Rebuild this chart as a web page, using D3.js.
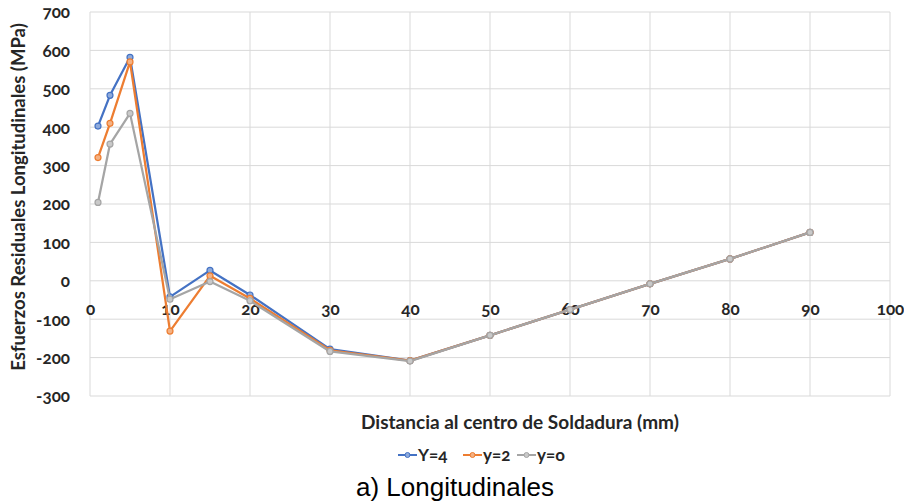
<!DOCTYPE html>
<html>
<head>
<meta charset="utf-8">
<script src="https://cdn.jsdelivr.net/npm/d3@7/dist/d3.min.js"></script>
<style>
  html, body { margin: 0; padding: 0; background: #fff; }
  svg { display: block; }
  .lbl { font-family: Lato, "Open Sans", sans-serif; font-weight: 700; fill: #262626; font-variant-numeric: oldstyle-nums; }
</style>
</head>
<body>
<svg id="chart" width="904" height="504"></svg>
<script>
// Distance from the weld centre (mm)
const distances = [1, 2.5, 5, 10, 15, 20, 30, 40, 50, 60, 70, 80, 90];

// Longitudinal residual stress (MPa) per line
const seriesNames = ["Y=4", "y=2", "y=o"];
const stressY4 = [403, 483, 582, -42, 27, -37, -178, -208, -142, -75, -8, 57, 126];
const stressY2 = [321, 410, 570, -131, 13, -46, -181, -208, -142, -75, -8, 57, 126];
const stressY0 = [204, 356, 436, -48, -2, -52, -184, -209, -142, -75, -8, 57, 126];

const xTicks = [0, 10, 20, 30, 40, 50, 60, 70, 80, 90, 100];
const yTicks = [-300, -200, -100, 0, 100, 200, 300, 400, 500, 600, 700];

const colors = ["#4472C4", "#ED7D31", "#A5A5A5"];
const markerFill = ["#8eaadb", "#f4b183", "#c9c9c9"];

const svg = d3.select("#chart");
const plotLeft = 90, plotRight = 890, plotTop = 12, plotBottom = 396;

const x = d3.scaleLinear().domain([0, 100]).range([plotLeft, plotRight]);
const y = d3.scaleLinear().domain([-300, 700]).range([plotBottom, plotTop]);

// Plain hyphen for negatives
const fmt = d => String(d);

// Gridlines
const grid = svg.append("g");
grid.selectAll("line.h").data(yTicks).join("line")
  .attr("x1", plotLeft).attr("x2", plotRight)
  .attr("y1", d => y(d)).attr("y2", d => y(d))
  .attr("stroke", "#d9d9d9").attr("stroke-width", 1);
grid.selectAll("line.v").data(xTicks).join("line")
  .attr("x1", d => x(d)).attr("x2", d => x(d))
  .attr("y1", plotTop).attr("y2", plotBottom)
  .attr("stroke", "#d9d9d9").attr("stroke-width", 1);

// Y axis labels
const yAxis = d3.axisLeft(y).tickValues(yTicks).tickSize(0).tickPadding(0).tickFormat(fmt);
svg.append("g").attr("transform", `translate(${plotLeft - 20},0)`).call(yAxis)
  .call(g => g.select(".domain").remove())
  .call(g => g.selectAll("text").attr("class", "lbl").attr("font-size", 17).attr("dy", "0.35em").attr("fill", null));

// X axis labels, sitting under the zero line
const xAxis = d3.axisBottom(x).tickValues(xTicks).tickSize(0).tickPadding(0).tickFormat(fmt);
svg.append("g").attr("transform", `translate(0,${y(0) + 28})`).call(xAxis)
  .call(g => g.select(".domain").remove())
  .call(g => g.selectAll("text").attr("class", "lbl").attr("font-size", 17).attr("dy", "0.35em").attr("fill", null));

// Series
const allSeries = [stressY4, stressY2, stressY0];
const line = d3.line().x((d, i) => x(distances[i])).y(d => y(d));

allSeries.forEach((vals, k) => {
  const g = svg.append("g");
  g.append("path").datum(vals)
    .attr("d", line).attr("fill", "none")
    .attr("stroke", colors[k]).attr("stroke-width", 2.25)
    .attr("stroke-linejoin", "round");
  g.selectAll("circle").data(vals).join("circle")
    .attr("cx", (d, i) => x(distances[i])).attr("cy", d => y(d))
    .attr("r", 3).attr("fill", markerFill[k])
    .attr("stroke", colors[k]).attr("stroke-width", 1.2);
});

// Axis titles
svg.append("text").attr("class", "lbl")
  .attr("x", 520).attr("y", 422).attr("dy", "0.35em")
  .attr("text-anchor", "middle").attr("font-size", 19)
  .text("Distancia al centro de Soldadura (mm)");

svg.append("text").attr("class", "lbl")
  .attr("transform", "translate(19,197) rotate(-90)")
  .attr("dy", "0.35em").attr("text-anchor", "middle").attr("font-size", 18.5)
  .text("Esfuerzos Residuales Longitudinales (MPa)");

// Legend
const legendX = [398, 463, 517];
seriesNames.forEach((name, k) => {
  const lg = svg.append("g").attr("transform", `translate(${legendX[k]},455)`);
  lg.append("line").attr("x1", 0).attr("x2", 19).attr("y1", 0).attr("y2", 0)
    .attr("stroke", colors[k]).attr("stroke-width", 2);
  lg.append("circle").attr("cx", 9.5).attr("cy", 0).attr("r", 2.5)
    .attr("fill", markerFill[k]).attr("stroke", colors[k]).attr("stroke-width", 1);
  lg.append("text").attr("class", "lbl").attr("x", 20).attr("dy", "0.35em")
    .attr("font-size", 17).text(name);
});

// Caption
svg.append("text")
  .attr("x", 455).attr("y", 487).attr("dy", "0.35em")
  .attr("text-anchor", "middle")
  .attr("font-family", "'Liberation Sans', Arial, sans-serif")
  .attr("font-size", 26).attr("fill", "#000")
  .text("a) Longitudinales");
</script>
</body>
</html>
